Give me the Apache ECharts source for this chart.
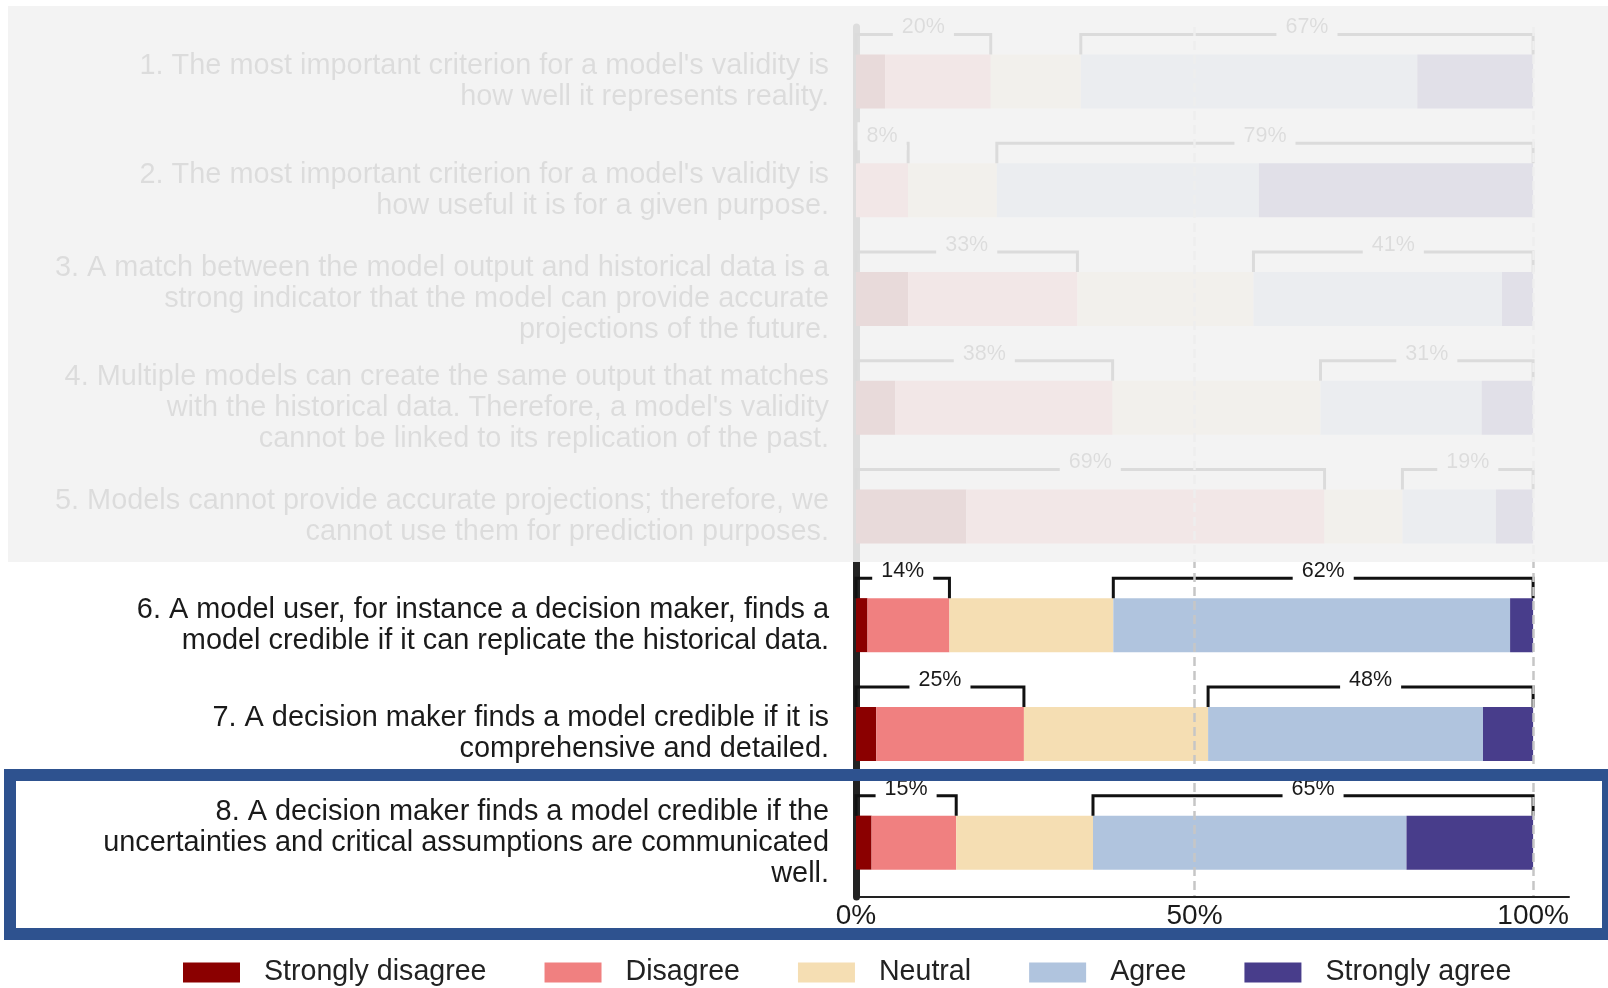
<!DOCTYPE html>
<html>
<head>
<meta charset="utf-8">
<title>Model validity survey</title>
<script src="https://cdn.jsdelivr.net/npm/echarts@6/dist/echarts.min.js"></script>
<style>
  html, body { margin: 0; padding: 0; background: #fff; }
  #chart { width: 1608px; height: 988px; }
</style>
</head>
<body>
<div id="chart"></div>
<script>
// statements (top to bottom)
const statements = [
  "1. The most important criterion for a model's validity is\nhow well it represents reality.",
  "2. The most important criterion for a model's validity is\nhow useful it is for a given purpose.",
  "3. A match between the model output and historical data is a\nstrong indicator that the model can provide accurate\nprojections of the future.",
  "4. Multiple models can create the same output that matches\nwith the historical data. Therefore, a model's validity\ncannot be linked to its replication of the past.",
  "5. Models cannot provide accurate projections; therefore, we\ncannot use them for prediction purposes.",
  "6. A model user, for instance a decision maker, finds a\nmodel credible if it can replicate the historical data.",
  "7. A decision maker finds a model credible if it is\ncomprehensive and detailed.",
  "8. A decision maker finds a model credible if the\nuncertainties and critical assumptions are communicated\nwell."
];

// share of answers in %, one value per statement
const stronglyDisagree = [4.3, 0, 7.7, 5.8, 16.3, 1.7, 3.0, 2.3];
const disagree         = [15.6, 7.7, 25.0, 32.1, 52.9, 12.1, 21.8, 12.5];
const neutral          = [13.3, 13.1, 26.0, 30.7, 11.5, 24.2, 27.2, 20.2];
const agree            = [49.7, 38.7, 36.7, 23.8, 13.8, 58.6, 40.6, 46.3];
const stronglyAgree    = [17.1, 40.5, 4.6, 7.6, 5.5, 3.4, 7.4, 18.7];

// bracket labels (disagree total / agree total)
const disagreeTotals = [20, 8, 33, 38, 69, 14, 25, 15];
const agreeTotals    = [67, 79, 41, 31, 19, 62, 48, 65];

const xTicks = [0, 50, 100];

const FONT = "'Liberation Sans', Arial, sans-serif";
const BAR_H = 54;

const levels = [
  { name: "Strongly disagree", data: stronglyDisagree, color: "#8B0000" },
  { name: "Disagree", data: disagree, color: "#F08080" },
  { name: "Neutral", data: neutral, color: "#F5DEB3" },
  { name: "Agree", data: agree, color: "#B0C4DE" },
  { name: "Strongly agree", data: stronglyAgree, color: "#483D8B" }
];

// bracket rows: [row, end of disagree part, start of agree part, labels]
const bracketRows = statements.map((s, i) => [
  i,
  stronglyDisagree[i] + disagree[i],
  stronglyDisagree[i] + disagree[i] + neutral[i],
  disagreeTotals[i],
  agreeTotals[i]
]);

function renderBracket(params, api) {
  const row = api.value(0);
  const c = api.coord([0, row]);
  const barTop = c[1] - BAR_H / 2;
  const yLine = barTop - 20;
  const x0 = c[0];
  const x1 = api.coord([api.value(1), row])[0];
  const x2 = api.coord([api.value(2), row])[0];
  const x3 = api.coord([100, row])[0];
  const line = { stroke: "#111", lineWidth: 3, fill: null, lineJoin: "miter" };
  const label = (x, txt) => ({
    type: "text",
    z2: 10,
    style: {
      text: txt + "%",
      x: x,
      y: yLine - 7,
      align: "center",
      verticalAlign: "middle",
      font: "21.5px " + FONT,
      fill: "#1a1a1a",
      backgroundColor: "#fff",
      padding: [3, 9]
    }
  });
  return {
    type: "group",
    children: [
      { type: "polyline", shape: { points: [[x0, barTop], [x0, yLine], [x1, yLine], [x1, barTop]] }, style: line },
      { type: "polyline", shape: { points: [[x2, barTop], [x2, yLine], [x3, yLine], [x3, barTop]] }, style: line },
      label((x0 + x1) / 2, api.value(3)),
      label((x2 + x3) / 2, api.value(4))
    ]
  };
}

const chart = echarts.init(document.getElementById("chart"));

const option = {
  backgroundColor: "#fff",
  animation: false,
  textStyle: { fontFamily: FONT },
  grid: { left: 856, right: 39, top: 27, bottom: 91, containLabel: false },
  legend: {
    data: levels.map(l => l.name),
    left: 183,
    top: 958,
    padding: 0,
    icon: "rect",
    itemWidth: 57,
    itemHeight: 20,
    itemGap: 58,
    selectedMode: false,
    textStyle: { fontSize: 28.6, color: "#222", lineHeight: 28, padding: [0, 0, 0, 19], fontFamily: FONT }
  },
  xAxis: {
    type: "value",
    min: 0,
    max: 105.3,
    interval: 50,
    z: 5,
    axisLine: { show: true, lineStyle: { color: "#222", width: 2 } },
    axisTick: { show: false },
    axisLabel: {
      fontSize: 28,
      color: "#1a1a1a",
      margin: 5,
      formatter: v => (xTicks.indexOf(v) >= 0 ? v + "%" : "")
    },
    splitLine: {
      show: true,
      showMinLine: false,
      showMaxLine: false,
      lineStyle: { color: "#c6c6c6", width: 2.5, type: [9, 5] }
    }
  },
  yAxis: {
    type: "category",
    data: statements,
    inverse: true,
    offset: 4,
    axisLine: { show: true, lineStyle: { color: "#222", width: 7 } },
    axisTick: { show: false },
    axisLabel: {
      fontSize: 28.9,
      lineHeight: 31,
      color: "#1a1a1a",
      margin: 23,
      align: "right",
      padding: [6, 0, 0, 0]
    }
  },
  series: levels.map(l => ({
    name: l.name,
    type: "bar",
    stack: "total",
    barWidth: BAR_H,
    itemStyle: { color: l.color },
    data: l.data
  })).concat([{
    type: "custom",
    name: "brackets",
    renderItem: renderBracket,
    encode: { x: [1, 2], y: 0 },
    clip: false,
    z: 4,
    silent: true,
    data: bracketRows
  }]),
  graphic: [
    // grey veil over statements 1-5
    {
      type: "rect",
      z: 100,
      silent: true,
      shape: { x: 8, y: 6, width: 1600, height: 556 },
      style: { fill: "rgba(242,242,242,0.9)" }
    },
    // blue frame round statement 8
    {
      type: "rect",
      z: 101,
      silent: true,
      shape: { x: 10, y: 775, width: 1598, height: 159 },
      style: { fill: null, stroke: "#2E528F", lineWidth: 12 }
    }
  ]
};

chart.setOption(option);
</script>
</body>
</html>
